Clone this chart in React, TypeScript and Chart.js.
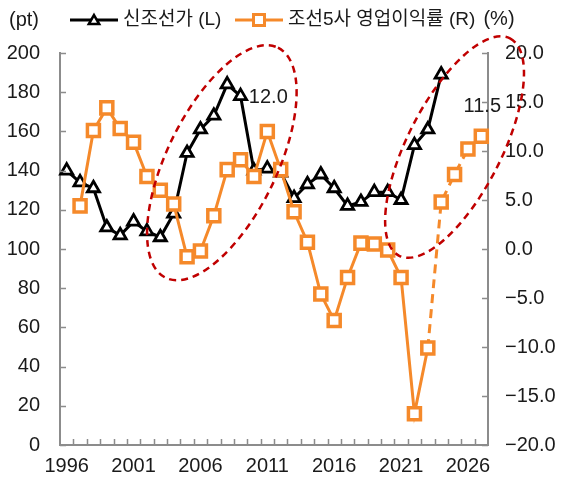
import React, { useEffect, useRef } from 'react';
import { Chart, registerables } from 'chart.js';

Chart.register(...registerables);

// ---------- data ----------
const years = [
  '1996', '1997', '1998', '1999', '2000', '2001', '2002', '2003',
  '2004', '2005', '2006', '2007', '2008', '2009', '2010', '2011',
  '2012', '2013', '2014', '2015', '2016', '2017', '2018', '2019',
  '2020', '2021', '2022', '2023', '2024', '2025', '2026', '2027',
];
const labeledYears = ['1996', '2001', '2006', '2011', '2016', '2021', '2026'];

// 신조선가 (L), pt
const newbuildPrice = [
  140, 134, 131, 111, 107, 114, 109, 106,
  118, 149, 161, 168, 184, 178, 140, 141,
  139, 126, 133, 138, 131, 122, 124, 129,
  129, 125, 153, 161, 189, null, null, null,
];
// 조선5사 영업이익률 (R), %
const opMargin = [
  null, 4.4, 12.1, 14.4, 12.3, 10.9, 7.4, 6.0,
  4.6, -0.8, -0.2, 3.4, 8.1, 9.1, 7.4, 12.0,
  8.1, 3.8, 0.7, -4.6, -7.3, -2.9, 0.6, 0.5,
  -0.1, -2.9, -16.8, -10.1, 4.8, 7.6, 10.2, 11.5,
];
const forecastFrom = '2023';
const valueLabelYears = ['2011', '2027'];
const seriesNames = ['신조선가 (L)', '조선5사 영업이익률 (R)'];
const unitLeft = '(pt)';
const unitRight = '(%)';
const leftRange = [0, 200, 20];
const rightRange = [-20, 20, 5];

// ---------- styles ----------
const FONT = "Arial, 'Liberation Sans', 'Noto Sans CJK KR', sans-serif";
const BLACK = '#000000';
const ORANGE = '#F5892A';
const AXIS = '#8C8C8C';
const TEXT = '#1A1A1A';
const RED = '#C00000';

const fmtPct = (v: number) => {
  const s = Math.abs(v).toFixed(1);
  return v < 0 ? '\u2212' + s : s;
};

const drawTriangle = (ctx: CanvasRenderingContext2D, x: number, y: number, r: number) => {
  ctx.beginPath();
  for (let k = 0; k < 3; k++) {
    const a = -Math.PI / 2 + (k * 2 * Math.PI) / 3;
    const px = x + Math.cos(a) * r;
    const py = y + Math.sin(a) * r;
    if (k === 0) ctx.moveTo(px, py);
    else ctx.lineTo(px, py);
  }
  ctx.closePath();
  ctx.fillStyle = '#fff';
  ctx.fill();
  ctx.stroke();
};

const overlayPlugin = {
  id: 'overlay',
  afterDraw(chart: any) {
    const { ctx, chartArea, scales } = chart;
    const xs = scales.x;
    const yl = scales.y;
    const yr = scales.y1;
    ctx.save();

    // inward tick marks
    ctx.strokeStyle = AXIS;
    ctx.lineWidth = 1.5;
    ctx.beginPath();
    yl.ticks.forEach((_t: any, i: number) => {
      const py = Math.round(yl.getPixelForTick(i)) + 0.5;
      ctx.moveTo(chartArea.left, py);
      ctx.lineTo(chartArea.left + 6, py);
    });
    yr.ticks.forEach((_t: any, i: number) => {
      const py = Math.round(yr.getPixelForTick(i)) + 0.5;
      ctx.moveTo(chartArea.right, py);
      ctx.lineTo(chartArea.right - 6, py);
    });
    for (let i = 0; i < years.length - 1; i++) {
      const px = Math.round((xs.getPixelForValue(i) + xs.getPixelForValue(i + 1)) / 2) + 0.5;
      ctx.moveTo(px, chartArea.bottom);
      ctx.lineTo(px, chartArea.bottom - 6);
    }
    ctx.stroke();

    // highlight ellipses (centre in data units, radii in px)
    const ellipses = [
      { xi: 11.6, yv: 144, a: 128, b: 55, rot: -64 },
      { xi: 29.0, yv: 152, a: 122, b: 47, rot: -63 },
    ];
    ctx.strokeStyle = RED;
    ctx.lineWidth = 2.5;
    ctx.setLineDash([7, 5]);
    ellipses.forEach((e) => {
      const cx = xs.getPixelForValue(e.xi);
      const cy = yl.getPixelForValue(e.yv);
      ctx.beginPath();
      ctx.ellipse(cx, cy, e.a, e.b, (e.rot * Math.PI) / 180, 0, Math.PI * 2);
      ctx.stroke();
    });
    ctx.setLineDash([]);

    // value labels
    ctx.font = `20px ${FONT}`;
    ctx.fillStyle = TEXT;
    ctx.textAlign = 'center';
    ctx.textBaseline = 'middle';
    const dys = [-34, -30];
    valueLabelYears.forEach((yrLabel, k) => {
      const i = years.indexOf(yrLabel);
      const v = opMargin[i] as number;
      const px = xs.getPixelForValue(i);
      const py = yr.getPixelForValue(v);
      ctx.fillText(v.toFixed(1), px + 1, py + dys[k]);
    });

    // unit labels
    ctx.font = `20px ${FONT}`;
    ctx.textAlign = 'center';
    ctx.fillText(unitLeft, 24, 20);
    ctx.fillText(unitRight, 499, 19);

    // legend
    const ly = 20;
    ctx.lineWidth = 3;
    ctx.strokeStyle = BLACK;
    ctx.beginPath();
    ctx.moveTo(70, ly);
    ctx.lineTo(118, ly);
    ctx.stroke();
    ctx.lineWidth = 2.5;
    drawTriangle(ctx, 94, ly + 1, 6);

    ctx.strokeStyle = ORANGE;
    ctx.lineWidth = 3;
    ctx.beginPath();
    ctx.moveTo(235, ly);
    ctx.lineTo(283, ly);
    ctx.stroke();
    ctx.lineWidth = 3;
    ctx.fillStyle = '#fff';
    ctx.fillRect(253.5, ly - 5.5, 11, 11);
    ctx.strokeRect(253.5, ly - 5.5, 11, 11);

    ctx.fillStyle = TEXT;
    ctx.font = `19px ${FONT}`;
    ctx.textAlign = 'left';
    ctx.fillText(seriesNames[0], 123, ly);
    ctx.fillText(seriesNames[1], 288, ly);

    ctx.restore();
  },
};

export default function App() {
  const ref = useRef<HTMLCanvasElement | null>(null);

  useEffect(() => {
    if (!ref.current) return;
    const fcIdx = years.indexOf(forecastFrom);
    const chart = new Chart(ref.current, {
      type: 'line',
      data: {
        labels: years,
        datasets: [
          {
            label: seriesNames[1],
            data: opMargin,
            yAxisID: 'y1',
            order: 0,
            borderColor: ORANGE,
            backgroundColor: '#fff',
            borderWidth: 3,
            pointStyle: 'rect',
            pointRadius: 8.5,
            pointBorderWidth: 3.5,
            pointBackgroundColor: '#fff',
            pointBorderColor: ORANGE,
            tension: 0,
            segment: {
              borderDash: (c: any) => (c.p0DataIndex >= fcIdx ? [9, 6] : undefined),
            },
          },
          {
            label: seriesNames[0],
            data: newbuildPrice,
            yAxisID: 'y',
            order: 1,
            borderColor: BLACK,
            backgroundColor: '#fff',
            borderWidth: 3,
            pointStyle: 'triangle',
            pointRadius: 7,
            pointBorderWidth: 2.8,
            pointBackgroundColor: '#fff',
            pointBorderColor: BLACK,
            tension: 0,
          },
        ],
      },
      options: {
        responsive: false,
        animation: false,
        layout: { padding: { top: 53, left: 0, right: 0, bottom: 0 } },
        plugins: {
          legend: { display: false },
          tooltip: { enabled: false },
          title: { display: false },
        },
        scales: {
          x: {
            type: 'category',
            offset: true,
            grid: { display: true, drawOnChartArea: false, drawTicks: false, offset: true },
            border: { display: true, color: AXIS, width: 2 },
            ticks: {
              autoSkip: false,
              maxRotation: 0,
              minRotation: 0,
              padding: 9,
              color: TEXT,
              font: { family: FONT, size: 20 },
              callback: (_v: any, i: number) => (labeledYears.includes(years[i]) ? years[i] : ''),
            },
            afterFit: (s: any) => {
              s.height = 36;
            },
          },
          y: {
            position: 'left',
            min: leftRange[0],
            max: leftRange[1],
            grid: { display: true, drawOnChartArea: false, drawTicks: false },
            border: { display: true, color: AXIS, width: 2 },
            ticks: {
              stepSize: leftRange[2],
              padding: 20,
              color: TEXT,
              font: { family: FONT, size: 20 },
            },
            afterFit: (s: any) => {
              s.width = 60;
            },
          },
          y1: {
            position: 'right',
            min: rightRange[0],
            max: rightRange[1],
            grid: { display: true, drawOnChartArea: false, drawTicks: false },
            border: { display: true, color: AXIS, width: 2 },
            ticks: {
              stepSize: rightRange[2],
              padding: 17,
              color: TEXT,
              font: { family: FONT, size: 20 },
              callback: (v: any) => fmtPct(Number(v)),
            },
            afterFit: (s: any) => {
              s.width = 76;
            },
          },
        },
      },
      plugins: [overlayPlugin],
    } as any);
    return () => chart.destroy();
  }, []);

  return (
    <div style={{ position: 'fixed', left: 0, top: 0, width: 564, height: 481, background: '#fff' }}>
      <canvas ref={ref} width={564} height={481} style={{ display: 'block', width: 564, height: 481 }} />
    </div>
  );
}
